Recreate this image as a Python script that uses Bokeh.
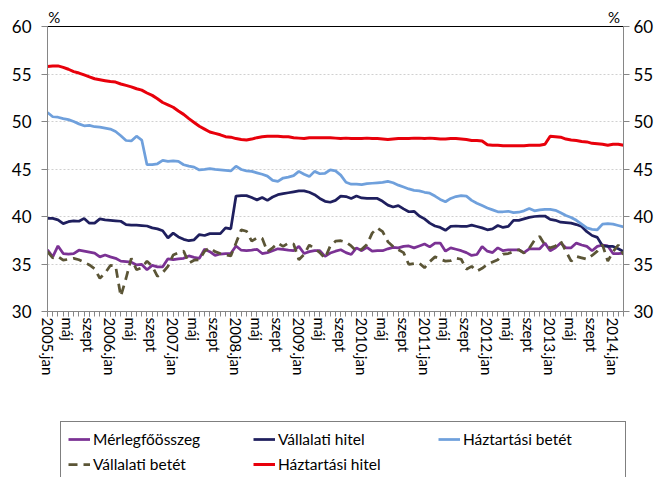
from bokeh.plotting import figure
from bokeh.layouts import column, row
from bokeh.models import Range1d, LinearAxis, FixedTicker, Legend, LegendItem, Spacer
from bokeh.embed import file_html
from bokeh.resources import INLINE

# Monthly data, 2005.jan - 2014.mar (%)
merlegfoosszeg = [36.5, 35.75, 36.9, 36.1, 36.05, 36.1, 36.45, 36.35, 36.25, 36.15, 35.75, 35.95, 35.75, 35.6, 35.3,
                  35.25, 35.2, 34.9, 34.95, 34.4, 34.85, 34.7, 34.7, 35.55, 35.45, 35.55, 35.6, 35.85, 35.7, 35.6,
                  36.55, 36.3, 35.9, 36.05, 36.1, 36.1, 36.9, 36.45, 36.4, 36.45, 36.55, 36.1, 36.2, 36.4, 36.6,
                  36.55, 36.45, 36.4, 36.85, 36.1, 36.3, 36.4, 36.4, 35.8, 36.15, 36.35, 36.5, 36.2, 36.0, 36.7,
                  36.4, 36.75, 36.35, 36.4, 36.4, 36.6, 36.75, 36.7, 36.85, 36.9, 36.7, 36.9, 37.1, 36.8, 37.2,
                  37.2, 36.35, 36.7, 36.55, 36.4, 36.2, 35.9, 36.0, 36.85, 36.35, 36.2, 36.7, 36.4, 36.5, 36.5,
                  36.5, 36.2, 36.6, 36.6, 36.6, 37.2, 36.4, 36.7, 37.2, 36.7, 36.7, 37.2, 37.0, 36.85, 36.4,
                  36.85, 37.0, 36.9, 36.1, 36.1, 36.15]
vallalati_hitel = [39.8, 39.8, 39.65, 39.25, 39.45, 39.55, 39.5, 39.8, 39.3, 39.3, 39.75, 39.65, 39.6, 39.55, 39.5,
                   39.15, 39.1, 39.1, 39.05, 39.0, 38.8, 38.7, 38.5, 37.75, 38.25, 37.85, 37.6, 37.45, 37.55, 38.1,
                   38.0, 38.2, 38.2, 38.2, 38.8, 38.7, 42.15, 42.2, 42.2, 42.0, 41.75, 42.0, 41.7, 42.05, 42.3,
                   42.4, 42.5, 42.6, 42.7, 42.7, 42.55, 42.3, 41.9, 41.6, 41.5, 41.7, 42.15, 42.1, 41.9, 42.15,
                   41.95, 41.9, 41.9, 41.9, 41.6, 41.2, 41.0, 41.15, 40.8, 40.5, 40.55, 40.05, 39.75, 39.3, 39.0,
                   38.85, 38.55, 38.95, 39.0, 38.95, 38.95, 39.1, 38.95, 38.8, 38.6, 38.7, 39.05, 38.85, 38.95, 39.6,
                   39.6, 39.75, 39.9, 40.0, 40.05, 40.05, 39.7, 39.6, 39.4, 39.35, 39.3, 39.15, 38.95, 38.4, 38.0,
                   37.8, 36.9, 36.85, 36.85, 36.6, 36.3]
haztartasi_betet = [50.95, 50.5, 50.45, 50.3, 50.2, 50.0, 49.75, 49.55, 49.6, 49.45, 49.4, 49.3, 49.2, 48.95, 48.5,
                    48.0, 47.95, 48.45, 48.05, 45.45, 45.45, 45.55, 45.9, 45.8, 45.85, 45.8, 45.45, 45.3, 45.2, 44.9,
                    44.95, 45.05, 44.95, 44.9, 44.85, 44.8, 45.3, 44.95, 44.8, 44.75, 44.6, 44.45, 44.25, 43.8, 43.7,
                    44.05, 44.15, 44.3, 44.75, 44.45, 44.2, 44.75, 44.5, 44.55, 44.9, 44.8, 44.35, 43.6, 43.4, 43.4,
                    43.35, 43.45, 43.5, 43.55, 43.6, 43.7, 43.55, 43.3, 43.1, 42.9, 42.75, 42.7, 42.55, 42.45, 42.15,
                    41.8, 41.55, 41.9, 42.1, 42.2, 42.15, 41.7, 41.4, 41.15, 40.9, 40.7, 40.5, 40.5, 40.55, 40.4,
                    40.45, 40.6, 40.85, 40.6, 40.7, 40.75, 40.75, 40.65, 40.4, 40.1, 39.9, 39.6, 39.2, 38.8, 38.65,
                    38.6, 39.2, 39.25, 39.2, 39.05, 38.9]
vallalati_betet = [36.3, 35.65, 35.8, 35.4, 35.5, 35.6, 35.45, 35.2, 34.9, 34.5, 33.5, 34.05, 34.85, 34.8, 31.6,
                   33.5, 35.6, 34.4, 34.6, 35.3, 34.75, 33.7, 34.1, 34.75, 35.95, 36.2, 36.35, 35.1, 35.4, 35.45,
                   36.35, 36.7, 36.3, 36.1, 35.95, 35.85, 37.2, 38.6, 38.45, 37.4, 37.75, 37.7, 36.3, 36.7, 37.2,
                   36.85, 37.2, 37.1, 35.45, 36.0, 37.0, 36.6, 36.2, 35.6, 36.9, 37.4, 37.45, 37.3, 36.9, 36.35,
                   36.55, 37.05, 38.25, 38.8, 38.4, 37.35, 36.85, 36.5, 36.2, 34.95, 35.05, 35.1, 34.6, 35.25, 35.75,
                   35.5, 35.3, 35.35, 35.6, 35.5, 34.45, 34.75, 34.25, 34.55, 34.95, 35.2, 35.45, 36.05, 36.1, 36.3,
                   36.5, 36.15, 36.65, 37.5, 37.9, 37.0, 36.7, 36.9, 37.4, 36.35, 35.3, 35.8, 35.65, 35.5, 35.9,
                   36.35, 37.0, 35.3, 36.3, 37.0, 36.0]
haztartasi_hitel = [55.8, 55.85, 55.85, 55.7, 55.5, 55.25, 55.1, 54.9, 54.7, 54.5, 54.4, 54.3, 54.2, 54.15, 53.95,
                    53.8, 53.65, 53.45, 53.3, 53.0, 52.75, 52.4, 52.0, 51.75, 51.5, 51.1, 50.75, 50.3, 49.9, 49.5,
                    49.2, 48.9, 48.75, 48.6, 48.4, 48.35, 48.2, 48.1, 48.05, 48.15, 48.3, 48.4, 48.45, 48.45, 48.45,
                    48.4, 48.4, 48.3, 48.25, 48.2, 48.3, 48.3, 48.3, 48.3, 48.3, 48.25, 48.2, 48.25, 48.2, 48.2,
                    48.2, 48.25, 48.2, 48.2, 48.15, 48.1, 48.15, 48.2, 48.2, 48.2, 48.25, 48.25, 48.2, 48.25, 48.2,
                    48.15, 48.15, 48.2, 48.2, 48.15, 48.1, 48.0, 48.0, 47.95, 47.55, 47.5, 47.5, 47.45, 47.45, 47.45,
                    47.45, 47.45, 47.5, 47.5, 47.5, 47.6, 48.45, 48.4, 48.35, 48.15, 48.05, 48.0, 47.9, 47.85, 47.7,
                    47.65, 47.6, 47.5, 47.6, 47.6, 47.5]

tick_labels = ["2005.jan", "máj", "szept", "2006.jan", "máj", "szept", "2007.jan", "máj", "szept",
               "2008.jan", "máj", "szept", "2009.jan", "máj", "szept", "2010.jan", "máj", "szept",
               "2011.jan", "máj", "szept", "2012.jan", "máj", "szept", "2013.jan", "máj", "szept", "2014.jan"]

series_names = ["Mérlegfőösszeg", "Vállalati hitel", "Háztartási betét", "Vállalati betét", "Háztartási hitel"]
unit_label = "%"

FONT = "Lato"
n = len(haztartasi_hitel)
x = list(range(n))

W, H = 663, 477
P_H = 421
p = figure(width=W, height=P_H, x_range=Range1d(0, n - 1), y_range=Range1d(30, 60),
           output_backend="svg", toolbar_location=None,
           min_border_left=47, min_border_right=40, min_border_top=26, min_border_bottom=P_H - 311)
p.outline_line_color = None
p.background_fill_color = "white"

# grid
p.xgrid.visible = False
p.ygrid.ticker = FixedTicker(ticks=[35, 40, 45, 50, 55])
p.ygrid.grid_line_color = "#D0D0D0"
p.ygrid.grid_line_dash = "2 2"
p.ygrid.grid_line_width = 1

axis_gray = "#868686"
yticks = FixedTicker(ticks=[30, 35, 40, 45, 50, 55, 60], minor_ticks=[])

for ax in p.yaxis:
    ax.ticker = yticks
    ax.major_tick_out = 6
    ax.major_tick_in = 0
    ax.minor_tick_out = 0
    ax.axis_line_color = axis_gray
    ax.major_tick_line_color = axis_gray
    ax.major_label_text_font = FONT
    ax.major_label_text_font_size = "17px"
    ax.major_label_text_color = "black"
    ax.major_label_standoff = 10

tick_pos = list(range(0, n, 4))[:len(tick_labels)]
xax = p.below[0]
xax.ticker = FixedTicker(ticks=tick_pos, minor_ticks=x)
xax.major_label_overrides = {t: lab for t, lab in zip(tick_pos, tick_labels)}
xax.major_label_orientation = "vertical"
xax.major_tick_out = 5
xax.major_tick_in = 0
xax.minor_tick_out = 5
xax.minor_tick_in = 0
xax.axis_line_color = axis_gray
xax.major_tick_line_color = axis_gray
xax.minor_tick_line_color = axis_gray
xax.major_label_text_font = FONT
xax.major_label_text_font_size = "15px"
xax.major_label_text_color = "black"
xax.major_label_standoff = 1

right = LinearAxis(ticker=yticks, major_tick_out=6, major_tick_in=0, minor_tick_out=0,
                   axis_line_color=axis_gray, major_tick_line_color=axis_gray,
                   major_label_text_font=FONT, major_label_text_font_size="17px",
                   major_label_text_color="black", major_label_standoff=4)
p.add_layout(right, "right")

# top border line carrying the "%" unit marks at both ends
pct_pos = [1.3, n - 1 - 1.8]
top = LinearAxis(ticker=FixedTicker(ticks=pct_pos, minor_ticks=[]),
                 major_label_overrides={t: unit_label for t in pct_pos},
                 major_tick_out=0, major_tick_in=0, minor_tick_out=0,
                 axis_line_color="black", major_label_text_font=FONT, major_label_text_font_size="15px",
                 major_label_text_color="black", major_label_standoff=1)
p.add_layout(top, "above")

colors = ["#7B3294", "#1F1F5E", "#6FA0DC", "#5B5536", "#E8000B"]
dashes = ["solid", "solid", "solid", "9 6", "solid"]
widths = [2.75, 2.75, 2.75, 2.75, 3]
data = [merlegfoosszeg, vallalati_hitel, haztartasi_betet, vallalati_betet, haztartasi_hitel]
for k in range(5):
    p.line(x, data[k], line_color=colors[k], line_width=widths[k], line_dash=dashes[k])

# legend panel below the chart
LEG_X = 60
lf = figure(width=W - LEG_X, height=H - P_H, x_range=Range1d(-20, -10), y_range=Range1d(30, 60),
            output_backend="svg", toolbar_location=None, x_axis_type=None, y_axis_type=None,
            min_border=0, min_border_left=0, min_border_right=0, min_border_top=0, min_border_bottom=0)
lf.outline_line_color = None
lf.xgrid.visible = False
lf.ygrid.visible = False
items = []
for k in range(5):
    r = lf.line(x, data[k], line_color=colors[k], line_width=widths[k], line_dash=dashes[k])
    items.append(LegendItem(label=series_names[k], renderers=[r]))

legend = Legend(items=items, orientation="horizontal", ncols=3, location="top_left",
                label_text_font=FONT, label_text_font_size="15.5px", label_text_color="black",
                glyph_width=22, glyph_height=20, label_height=20, label_width=155,
                label_standoff=3, spacing=5, padding=7, margin=0,
                border_line_color="black", border_line_width=1,
                background_fill_color="white", background_fill_alpha=1)
lf.add_layout(legend, "center")

layout = column(p, row(Spacer(width=LEG_X, height=H - P_H), lf, spacing=0), spacing=0)
open("out.html", "w").write(file_html(layout, INLINE))
